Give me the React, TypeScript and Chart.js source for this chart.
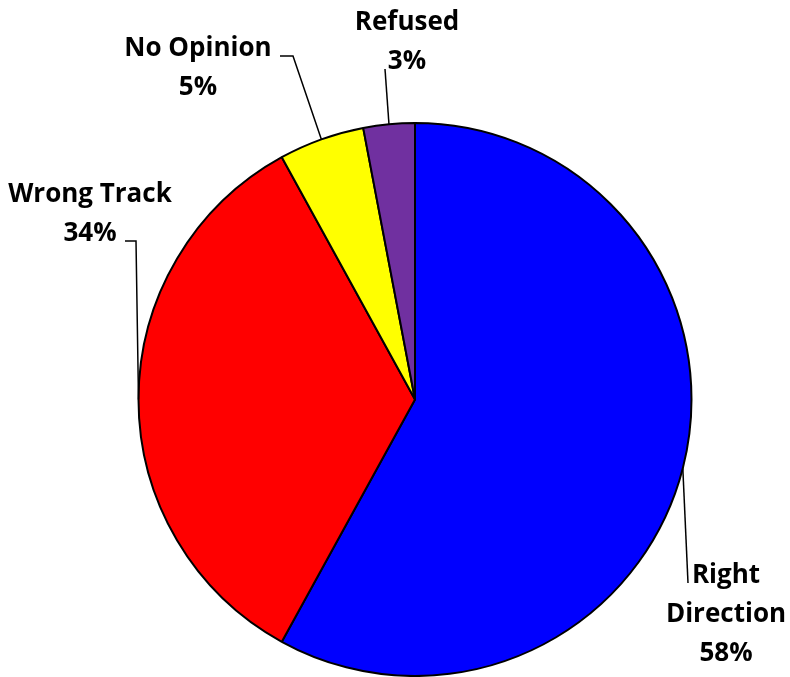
import React, { useEffect, useRef } from "react";
import { Chart, registerables } from "chart.js";

Chart.register(...registerables);

const categories = ["Right Direction", "Wrong Track", "No Opinion", "Refused"];
const values = [58, 34, 5, 3];
const colors = ["#0000FF", "#FF0000", "#FFFF00", "#7030A0"];
const labelLines = [["Right", "Direction"], ["Wrong Track"], ["No Opinion"], ["Refused"]];

// label layout: text center x, first baseline y, leader polyline start points (ending at arc midpoint)
const labelX = [726, 90, 198, 407];
const labelY = [583, 202, 56, 30];
const leaders: number[][][] = [
  [[688, 583]],
  [[125, 241], [136, 241]],
  [[280, 56], [293, 56]],
  [[385, 69]],
];

const FONT = "bold 26px 'Open Sans'";
const LINE_H = 39;

const labelPlugin = {
  id: "pieLabels",
  afterDatasetsDraw(chart: any) {
    const ctx = chart.ctx;
    const meta = chart.getDatasetMeta(0);
    ctx.save();
    meta.data.forEach((el: any, i: number) => {
      const p = el.getProps(["x", "y", "startAngle", "endAngle", "outerRadius"], true);
      const mid = (p.startAngle + p.endAngle) / 2;
      const ax = p.x + Math.cos(mid) * p.outerRadius;
      const ay = p.y + Math.sin(mid) * p.outerRadius;
      const pts = leaders[i];
      ctx.beginPath();
      ctx.strokeStyle = "#000";
      ctx.lineWidth = 1.5;
      ctx.moveTo(pts[0][0], pts[0][1]);
      for (let k = 1; k < pts.length; k++) ctx.lineTo(pts[k][0], pts[k][1]);
      ctx.lineTo(ax, ay);
      ctx.stroke();

      const lines = [...labelLines[i], `${values[i]}%`];
      ctx.fillStyle = "#000";
      ctx.font = FONT;
      ctx.textAlign = "center";
      ctx.textBaseline = "alphabetic";
      lines.forEach((t, k) => ctx.fillText(t, labelX[i], labelY[i] + k * LINE_H));
    });
    ctx.restore();
  },
};

export default function App() {
  const ref = useRef<HTMLCanvasElement | null>(null);
  useEffect(() => {
    if (!ref.current) return;
    const chart = new Chart(ref.current, {
      type: "pie",
      data: {
        labels: categories,
        datasets: [
          {
            data: values,
            backgroundColor: colors,
            borderColor: "#000",
            borderWidth: 2,
            hoverOffset: 0,
            offset: 0,
          },
        ],
      },
      options: {
        responsive: false,
        animation: false,
        devicePixelRatio: 1,
        layout: { padding: { left: 137, right: 97, top: 122, bottom: -1 } },
        plugins: { legend: { display: false }, tooltip: { enabled: false } },
      },
      plugins: [labelPlugin],
    });
    return () => chart.destroy();
  }, []);
  return (
    <div style={{ position: "absolute", left: 0, top: 0, width: 790, height: 677, background: "#fff" }}>
      <canvas ref={ref} width={790} height={677} style={{ display: "block" }} />
    </div>
  );
}
